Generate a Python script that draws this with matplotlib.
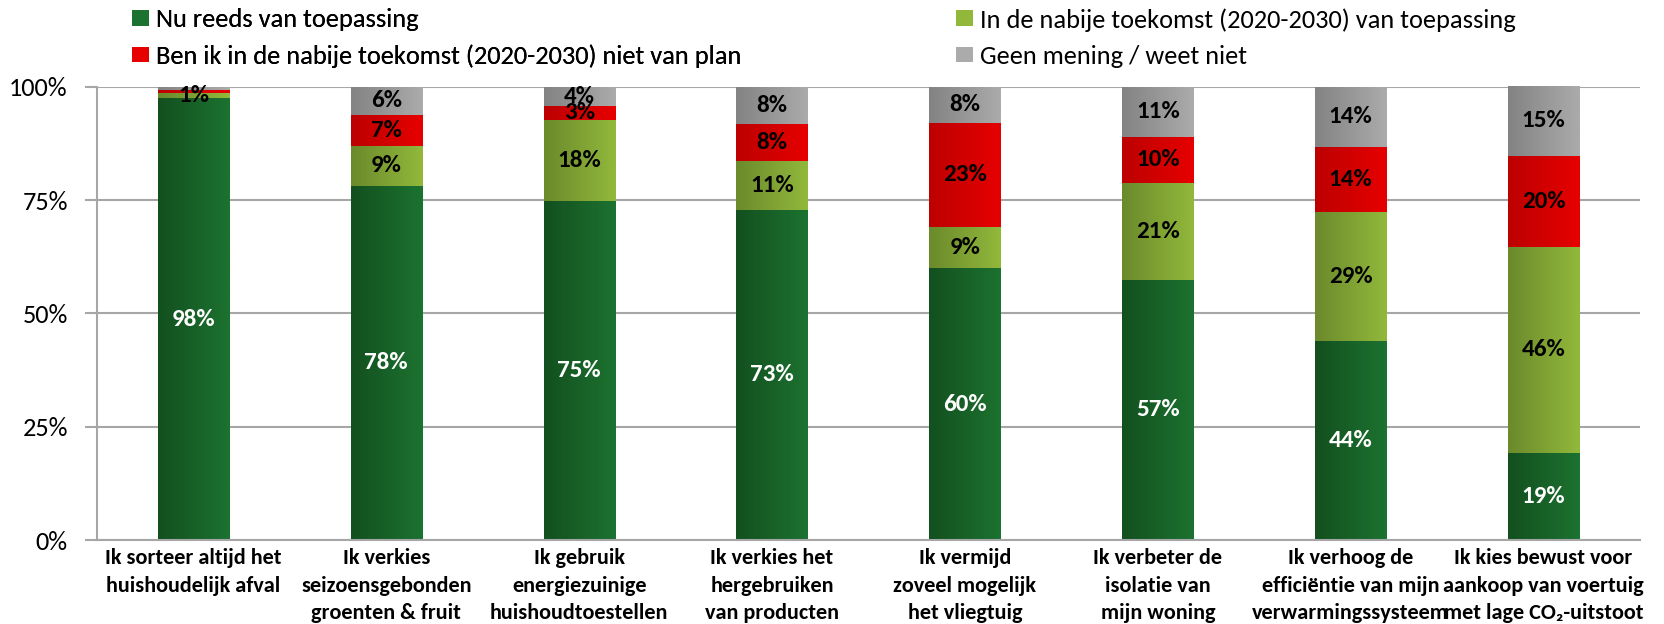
import matplotlib
matplotlib.use('Agg')
import matplotlib.pyplot as plt
import numpy as np
from matplotlib.colors import LinearSegmentedColormap
from matplotlib.patches import Patch

FONTS = ['Carlito', 'Liberation Sans', 'DejaVu Sans']
plt.rcParams['font.family'] = FONTS

# categories (x labels)
categories = [
    'Ik sorteer altijd het\nhuishoudelijk afval',
    'Ik verkies\nseizoensgebonden\ngroenten & fruit',
    'Ik gebruik\nenergiezuinige\nhuishoudtoestellen',
    'Ik verkies het\nhergebruiken\nvan producten',
    'Ik vermijd\nzoveel mogelijk\nhet vliegtuig',
    'Ik verbeter de\nisolatie van\nmijn woning',
    'Ik verhoog de\nefficiëntie van mijn\nverwarmingssysteem',
    'Ik kies bewust voor\naankoop van voertuig\nmet lage CO₂-uitstoot',
]

series_names = [
    'Nu reeds van toepassing',
    'In de nabije toekomst (2020-2030) van toepassing',
    'Ben ik in de nabije toekomst (2020-2030) niet van plan',
    'Geen mening / weet niet',
]

# values in %
nu_reeds = [97.4, 78.1, 74.8, 72.8, 60.0, 57.4, 44.0, 19.2]
toekomst = [1.1, 8.9, 17.9, 10.8, 9.1, 21.3, 28.4, 45.5]
niet_plan = [0.7, 6.8, 3.1, 8.2, 22.9, 10.3, 14.3, 20.0]
geen_mening = [0.8, 6.2, 4.2, 8.2, 8.0, 11.0, 13.3, 15.5]

# data labels as printed
lab_nu = ['98%', '78%', '75%', '73%', '60%', '57%', '44%', '19%']
lab_toek = ['1%', '9%', '18%', '11%', '9%', '21%', '29%', '46%']
lab_niet = ['', '7%', '3%', '8%', '23%', '10%', '14%', '20%']
lab_geen = ['', '6%', '4%', '8%', '8%', '11%', '14%', '15%']

yticks = [0, 25, 50, 75, 100]
ytick_labels = ['0%', '25%', '50%', '75%', '100%']

# left (dark) -> right (light) gradient colours per series
grad_colors = [
    ('#13501f', '#1c7230'),
    ('#6b8a2c', '#92b83b'),
    ('#bd0000', '#e60000'),
    ('#838383', '#ababab'),
]
label_colors = ['white', 'black', 'black', 'black']

fig = plt.figure(figsize=(16.65, 6.24), dpi=100)
ax = fig.add_axes([97 / 1665, 1 - 540 / 624, (1640 - 97) / 1665, (540 - 86.7) / 624])

x = np.arange(len(categories))
width = 0.37
grad = np.linspace(0, 1, 64).reshape(1, -1)

all_vals = [nu_reeds, toekomst, niet_plan, geen_mening]
all_labs = [lab_nu, lab_toek, lab_niet, lab_geen]
bottom = np.zeros(len(categories))
for vals, labs, (c0, c1), tc in zip(all_vals, all_labs, grad_colors, label_colors):
    vals = np.array(vals)
    bars = ax.bar(x, vals, width, bottom=bottom, color=c1, zorder=2, linewidth=0)
    cmap = LinearSegmentedColormap.from_list('g', [c0, c1])
    for rect in bars:
        x0, y0 = rect.get_x(), rect.get_y()
        im = ax.imshow(grad, cmap=cmap, aspect='auto', zorder=2.5,
                       extent=(x0, x0 + rect.get_width(), y0, y0 + rect.get_height()))
        im.set_clip_path(rect)
    for xi, b, v, lab in zip(x, bottom, vals, labs):
        if lab:
            ax.text(xi, b + v / 2, lab, ha='center', va='center', color=tc,
                    fontsize=18, fontweight='bold', zorder=4)
    bottom = bottom + vals

ax.set_xlim(-0.5, len(categories) - 0.5)
ax.set_ylim(0, 100)
ax.set_yticks(yticks)
ax.set_yticklabels(ytick_labels, fontsize=19)
ax.yaxis.grid(True, color='#a6a6a6', linewidth=1.5, zorder=0)
ax.set_axisbelow(True)
ax.tick_params(axis='y', length=9, width=1.5, color='#a6a6a6', pad=12)
ax.tick_params(axis='x', length=0, pad=6)
ax.set_xticks(x)
ax.set_xticklabels(categories, fontsize=16, fontweight='bold', linespacing=1.45)
for side in ['top', 'right']:
    ax.spines[side].set_visible(False)
for side in ['left', 'bottom']:
    ax.spines[side].set_color('#a6a6a6')
    ax.spines[side].set_linewidth(1.5)

handles = [Patch(facecolor=c[1], edgecolor='none') for c in grad_colors]
leg_kw = dict(loc='upper left', frameon=False, handlelength=0.65, handleheight=0.55,
              handletextpad=0.25, labelspacing=0.5, borderpad=0, borderaxespad=0,
              prop={'size': 19})
leg1 = fig.legend([handles[0], handles[2]], [series_names[0], series_names[2]],
                  bbox_to_anchor=(132 / 1665, 1 - 8 / 624), **leg_kw)
fig.add_artist(leg1)
fig.legend([handles[1], handles[3]], [series_names[1], series_names[3]],
           bbox_to_anchor=(956 / 1665, 1 - 8 / 624), **leg_kw)

fig.savefig('out.png', dpi=100)
